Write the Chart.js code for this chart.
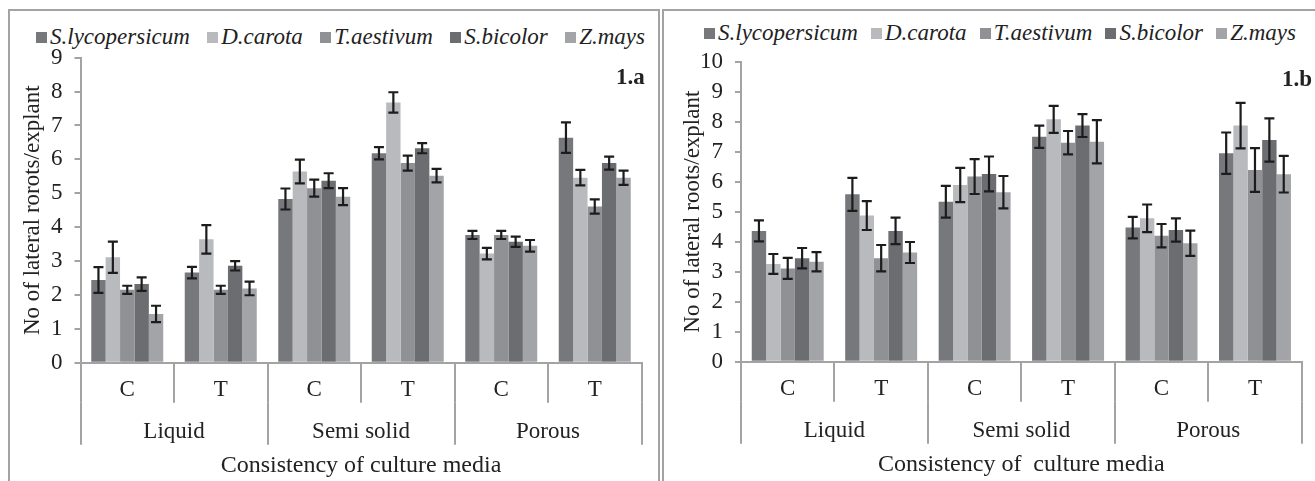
<!DOCTYPE html>
<html>
<head>
<meta charset="utf-8">
<script src="https://cdn.jsdelivr.net/npm/chart.js@4.4.0/dist/chart.umd.min.js"></script>
<style>
  html, body { margin:0; padding:0; background:#fff; width:1315px; height:481px; overflow:hidden; }
  .frame { position:absolute; border:2px solid #a3a3a3; box-sizing:border-box; }
  #frameA { left:8px; top:9px; width:652px; height:490px; }
  #frameB { left:662px; top:9px; width:700px; height:490px; }
  canvas { position:absolute; }
  #chartA { left:10px; top:11px; }
  #chartB { left:664px; top:11px; }
  .legend { position:absolute; display:flex; justify-content:space-between; font:italic 23px "Liberation Serif", "Times New Roman", serif; color:#222; line-height:26px; white-space:nowrap; }
  .legend .box { display:inline-block; width:11px; height:11px; margin-right:3px; vertical-align:1px; }
  .tag { position:absolute; font:bold 23px "Liberation Serif", "Times New Roman", serif; color:#222; line-height:26px; }
</style>
</head>
<body>
<div class="frame" id="frameA"></div>
<div class="frame" id="frameB"></div>
<div class="legend" id="legendA" style="left:36px; top:24px; width:609px;"></div>
<div class="legend" id="legendB" style="left:704px; top:20px; width:592px;"></div>
<canvas id="chartA" width="648" height="470"></canvas>
<canvas id="chartB" width="651" height="470"></canvas>
<div class="tag" style="left:616px; top:64px;">1.a</div>
<div class="tag" style="left:1282px; top:66px;">1.b</div>
<script>
// categories
const subLabels = ['C', 'T', 'C', 'T', 'C', 'T']
const groupLabels = ['Liquid', 'Semi solid', 'Porous']
const species = ['S.lycopersicum', 'D.carota', 'T.aestivum', 'S.bicolor', 'Z.mays']
const colors = ['#77787c', '#b9babe', '#909195', '#6c6d71', '#a3a4a8']

// 1.a  (Liquid C, Liquid T, Semi solid C, Semi solid T, Porous C, Porous T)
const lycA = [2.44, 2.66, 4.83, 6.18, 3.77, 6.64]
const carotaA = [3.11, 3.64, 5.64, 7.68, 3.22, 5.46]
const aestivumA = [2.15, 2.15, 5.15, 5.89, 3.77, 4.61]
const bicolorA = [2.32, 2.86, 5.37, 6.33, 3.57, 5.89]
const maysA = [1.44, 2.19, 4.90, 5.52, 3.45, 5.46]
const lycAErr = [0.38, 0.17, 0.31, 0.18, 0.12, 0.45]
const carotaAErr = [0.46, 0.42, 0.35, 0.30, 0.17, 0.23]
const aestivumAErr = [0.12, 0.12, 0.25, 0.22, 0.12, 0.21]
const bicolorAErr = [0.20, 0.14, 0.22, 0.15, 0.15, 0.19]
const maysAErr = [0.24, 0.20, 0.25, 0.20, 0.17, 0.21]

// 1.b
const lycB = [4.36, 5.58, 5.33, 7.50, 4.47, 6.95]
const carotaB = [3.26, 4.87, 5.89, 8.08, 4.78, 7.87]
const aestivumB = [3.11, 3.45, 6.17, 7.30, 4.20, 6.39]
const bicolorB = [3.45, 4.36, 6.26, 7.87, 4.39, 7.39]
const maysB = [3.33, 3.64, 5.65, 7.33, 3.95, 6.25]
const lycBErr = [0.35, 0.55, 0.53, 0.37, 0.36, 0.69]
const carotaBErr = [0.33, 0.48, 0.57, 0.45, 0.46, 0.76]
const aestivumBErr = [0.35, 0.44, 0.58, 0.39, 0.39, 0.73]
const bicolorBErr = [0.34, 0.44, 0.58, 0.38, 0.39, 0.72]
const maysBErr = [0.32, 0.35, 0.54, 0.72, 0.42, 0.61]

Chart.defaults.font.family = '"Liberation Serif", "Times New Roman", serif'
Chart.defaults.font.size = 23
Chart.defaults.color = '#222'

const axisGray = '#a3a3a3'

// error bars drawn from the y scale
const errorBars = {
  id: 'errorBars',
  afterDatasetsDraw(chart) {
    const ctx = chart.ctx
    const y = chart.scales.y
    ctx.save()
    ctx.strokeStyle = '#1c1c1c'
    ctx.lineWidth = 2.2
    chart.data.datasets.forEach((ds, i) => {
      chart.getDatasetMeta(i).data.forEach((bar, j) => {
        const v = ds.data[j], e = ds.errors[j]
        const top = y.getPixelForValue(v + e)
        const bot = y.getPixelForValue(v - e)
        ctx.beginPath()
        ctx.moveTo(bar.x, top); ctx.lineTo(bar.x, bot)
        ctx.moveTo(bar.x - 5, top); ctx.lineTo(bar.x + 5, top)
        ctx.moveTo(bar.x - 5, bot); ctx.lineTo(bar.x + 5, bot)
        ctx.stroke()
      })
    })
    ctx.restore()
  }
}

// second row of the category axis: Liquid / Semi solid / Porous
const groupAxis = {
  id: 'groupAxis',
  afterDraw(chart) {
    const ctx = chart.ctx
    const x = chart.scales.x
    const half = (x.getPixelForValue(1) - x.getPixelForValue(0)) / 2
    ctx.save()
    ctx.strokeStyle = axisGray
    ctx.lineWidth = 2
    for (let g = 0; g <= groupLabels.length; g++) {
      const px = Math.round(x.getPixelForValue(g * 2) - half)
      ctx.beginPath()
      ctx.moveTo(px, x.top + 40); ctx.lineTo(px, x.top + 82)
      ctx.stroke()
    }
    ctx.fillStyle = '#222'
    ctx.font = '23px "Liberation Serif", "Times New Roman", serif'
    ctx.textAlign = 'center'
    ctx.textBaseline = 'middle'
    groupLabels.forEach((g, i) => {
      const cx = (x.getPixelForValue(i * 2) + x.getPixelForValue(i * 2 + 1)) / 2
      ctx.fillText(g, cx, x.top + 69)
    })
    ctx.restore()
  }
}

function makeChart(id, series, errs, max, yTitle, xTitle, geo) {
  const datasets = species.map((s, i) => ({
    label: s,
    data: series[i],
    errors: errs[i],
    backgroundColor: colors[i],
    borderWidth: 0,
    categoryPercentage: 0.77,
    barPercentage: 1.0
  }))
  return new Chart(document.getElementById(id), {
    type: 'bar',
    data: { labels: subLabels, datasets: datasets },
    options: {
      responsive: false,
      animation: false,
      layout: { padding: { top: geo.top, right: geo.right, left: 0, bottom: 0 } },
      plugins: { legend: { display: false }, tooltip: { enabled: false } },
      scales: {
        x: {
          afterFit: s => { s.height = geo.xHeight },
          grid: { drawOnChartArea: false, drawTicks: true, tickLength: 40, color: axisGray, lineWidth: 2, offset: true },
          border: { color: axisGray, width: 2 },
          ticks: { autoSkip: false, maxRotation: 0, padding: -26.5, color: '#222', font: { size: 23 } },
          title: { display: true, text: xTitle, color: '#222', font: { size: 24 }, padding: { top: 0, bottom: geo.xTitlePad } }
        },
        y: {
          min: 0, max: max,
          afterFit: s => { s.width = geo.yWidth },
          grid: { drawOnChartArea: false, drawTicks: true, tickLength: 6, color: axisGray, lineWidth: 2 },
          border: { color: axisGray, width: 2 },
          ticks: { stepSize: 1, autoSkip: false, padding: 12, color: '#222', font: { size: 23 } },
          title: { display: true, text: yTitle, color: '#222', font: { size: 23 }, padding: { top: geo.yTitlePad, bottom: 0 } }
        }
      }
    },
    plugins: [errorBars, groupAxis]
  })
}

function buildLegend(chart, el) {
  chart.data.datasets.forEach(ds => {
    const item = document.createElement('span')
    const box = document.createElement('span')
    box.className = 'box'
    box.style.background = ds.backgroundColor
    item.appendChild(box)
    item.appendChild(document.createTextNode(ds.label))
    el.appendChild(item)
  })
}

const chartA = makeChart('chartA',
  [lycA, carotaA, aestivumA, bicolorA, maysA],
  [lycAErr, carotaAErr, aestivumAErr, bicolorAErr, maysAErr],
  9, 'No of lateral rorots/explant', 'Consistency of culture media',
  { top: 46.7, right: 16.5, xHeight: 118.3, yWidth: 70.5, yTitlePad: 9.2, xTitlePad: 1 })

const chartB = makeChart('chartB',
  [lycB, carotaB, aestivumB, bicolorB, maysB],
  [lycBErr, carotaBErr, aestivumBErr, bicolorBErr, maysBErr],
  10, 'No of lateral roots/explant', 'Consistency of  culture media',
  { top: 50.7, right: 13.3, xHeight: 119.3, yWidth: 77, yTitlePad: 15.5, xTitlePad: 2 })

buildLegend(chartA, document.getElementById('legendA'))
buildLegend(chartB, document.getElementById('legendB'))
</script>
</body>
</html>
